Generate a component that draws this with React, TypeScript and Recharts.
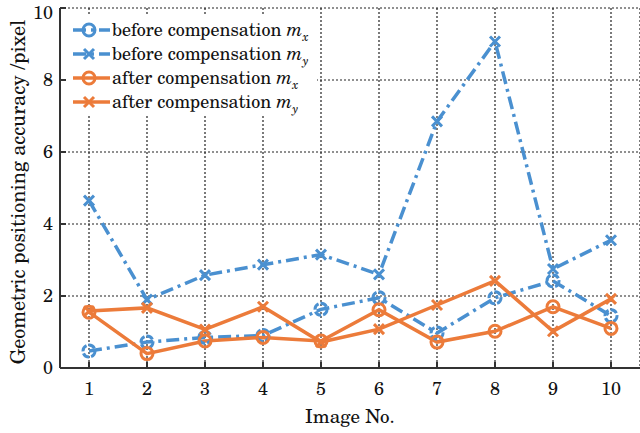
import React from "react";
import { LineChart, Line, XAxis, YAxis, CartesianGrid } from "recharts";

const images = [1, 2, 3, 4, 5, 6, 7, 8, 9, 10];
const beforeMx = [0.47, 0.72, 0.85, 0.9, 1.63, 1.95, 0.97, 1.95, 2.42, 1.45];
const beforeMy = [4.65, 1.9, 2.58, 2.87, 3.15, 2.6, 6.85, 9.07, 2.75, 3.55];
const afterMx = [1.55, 0.4, 0.75, 0.85, 0.75, 1.62, 0.72, 1.02, 1.7, 1.1];
const afterMy = [1.58, 1.67, 1.07, 1.7, 0.72, 1.08, 1.75, 2.42, 1.02, 1.92];
const yTicks = [0, 2, 4, 6, 8, 10];

const BLUE = "#4a90d0";
const ORANGE = "#ec7b3a";
const FONT = '"TeX Gyre Schola", "Liberation Serif", serif';
const BLUE_DASH = "13 5 3 5";

const data = images.map((img, i) => ({
  img,
  beforeMx: beforeMx[i],
  beforeMy: beforeMy[i],
  afterMx: afterMx[i],
  afterMy: afterMy[i],
}));

const circleDot = (color: string, dash?: boolean) => (props: any) => {
  const { cx, cy, index } = props;
  return (
    <circle
      key={`c-${color}-${index}`}
      cx={cx}
      cy={cy}
      r={6}
      fill="none"
      stroke={color}
      strokeWidth={3}
      strokeDasharray={dash ? "7 2" : undefined}
    />
  );
};

const crossDot = (color: string) => (props: any) => {
  const { cx, cy, index } = props;
  const s = 5;
  return (
    <path
      key={`x-${color}-${index}`}
      d={`M${cx - s},${cy - s}L${cx + s},${cy + s}M${cx - s},${cy + s}L${cx + s},${cy - s}`}
      stroke={color}
      strokeWidth={3}
      fill="none"
    />
  );
};

const legendItems = [
  { label: "before compensation ", sub: "x", color: BLUE, dash: BLUE_DASH, marker: "circle" },
  { label: "before compensation ", sub: "y", color: BLUE, dash: BLUE_DASH, marker: "cross" },
  { label: "after compensation ", sub: "x", color: ORANGE, dash: undefined, marker: "circle" },
  { label: "after compensation ", sub: "y", color: ORANGE, dash: undefined, marker: "cross" },
];

const LegendBox = () => (
  <div
    style={{
      position: "absolute",
      left: 67,
      top: 16,
      width: 250,
      background: "#fff",
      fontFamily: FONT,
      fontSize: 18,
      color: "#111",
      padding: "2px 0",
    }}
  >
    {legendItems.map((it, i) => (
      <div key={i} style={{ display: "flex", alignItems: "center", height: 24 }}>
        <svg width={44} height={20} style={{ flex: "none" }}>
          <line x1={6} y1={10} x2={43} y2={10} stroke={it.color} strokeWidth={3.5} strokeDasharray={it.dash} />
          {it.marker === "circle" ? (
            <circle cx={22} cy={10} r={6} fill="none" stroke={it.color} strokeWidth={3} />
          ) : (
            <path d="M17,5L27,15M17,15L27,5" stroke={it.color} strokeWidth={3} />
          )}
        </svg>
        <span style={{ whiteSpace: "nowrap", marginLeft: 1 }}>
          {it.label}
          <i>m</i>
          <sub style={{ fontStyle: "italic", fontSize: 12 }}>{it.sub}</sub>
        </span>
      </div>
    ))}
  </div>
);

const YLabel = () => (
  <text
    x={17}
    y={192}
    transform="rotate(-90 17 192)"
    textAnchor="middle"
    dominantBaseline="central"
    fill="#111"
    style={{ fontFamily: FONT, fontSize: 20 }}
  >
    Geometric positioning accuracy /pixel
  </text>
);

export default function App() {
  return (
    <div style={{ position: "absolute", left: 0, top: 0, width: 640, height: 433, background: "#fff" }}>
      <LineChart width={640} height={433} data={data} margin={{ top: 8, right: 0, left: 0, bottom: 0 }}>
        <CartesianGrid stroke="#222" strokeDasharray="2 2" strokeWidth={1.2} />
        <XAxis
          dataKey="img"
          type="number"
          domain={[0.5, 10.5]}
          ticks={images}
          height={65}
          axisLine={{ stroke: "#333", strokeWidth: 2 }}
          tickLine={{ stroke: "#333", strokeWidth: 2 }}
          tickSize={-6}
          tickMargin={20}
          tick={{ fill: "#111", style: { fontFamily: FONT, fontSize: 18 } }}
          label={{
            value: "Image No.",
            position: "insideBottom",
            offset: 10,
            style: { fill: "#111", fontFamily: FONT, fontSize: 19 },
          }}
        />
        <YAxis
          type="number"
          domain={[0, 10]}
          ticks={yTicks}
          width={60}
          axisLine={{ stroke: "#333", strokeWidth: 2 }}
          tickLine={{ stroke: "#333", strokeWidth: 2 }}
          tickSize={-6}
          tickMargin={13}
          tick={{ fill: "#111", style: { fontFamily: FONT, fontSize: 18 } }}
          label={{ content: () => <YLabel /> }}
        />
        <Line
          dataKey="beforeMx"
          stroke={BLUE}
          strokeWidth={3.5}
          strokeDasharray={BLUE_DASH}
          dot={circleDot(BLUE, true)}
          isAnimationActive={false}
        />
        <Line
          dataKey="beforeMy"
          stroke={BLUE}
          strokeWidth={3.5}
          strokeDasharray={BLUE_DASH}
          dot={crossDot(BLUE)}
          isAnimationActive={false}
        />
        <Line
          dataKey="afterMx"
          stroke={ORANGE}
          strokeWidth={3.5}
          dot={circleDot(ORANGE)}
          isAnimationActive={false}
        />
        <Line
          dataKey="afterMy"
          stroke={ORANGE}
          strokeWidth={3.5}
          dot={crossDot(ORANGE)}
          isAnimationActive={false}
        />
      </LineChart>
      <LegendBox />
    </div>
  );
}
